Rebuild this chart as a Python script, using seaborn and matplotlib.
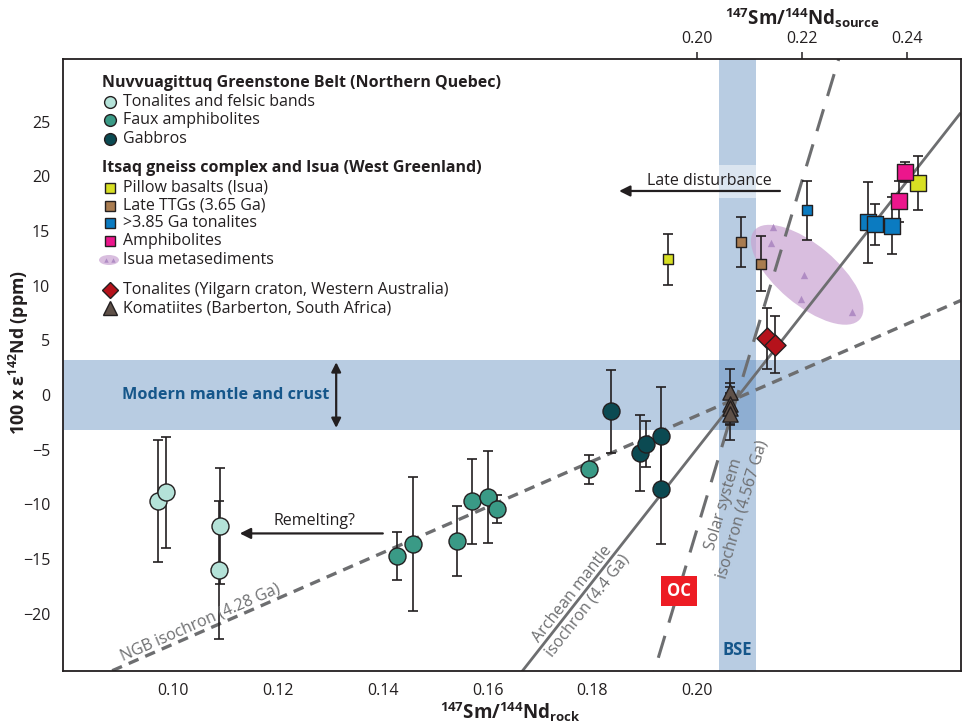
import numpy as np
import pandas as pd
import matplotlib
matplotlib.use("Agg")
import matplotlib.pyplot as plt
import matplotlib.transforms as mtransforms
from matplotlib.patches import Ellipse, Rectangle
import seaborn as sns

# ---------------- data ----------------
# Nuvvuagittuq Greenstone Belt (Northern Quebec)
felsic_x = [0.0970, 0.0987, 0.1090, 0.1087]
felsic_y = [-9.7, -8.9, -12.0, -16.0]
felsic_err = [5.6, 5.1, 5.3, 6.3]

faux_x = [0.1428, 0.1457, 0.1541, 0.1570, 0.1601, 0.1618, 0.1793]
faux_y = [-14.7, -13.6, -13.3, -9.7, -9.3, -10.4, -6.8]
faux_err = [2.2, 6.1, 3.2, 3.9, 4.2, 1.3, 1.3]

gabbro_x = [0.1835, 0.1891, 0.1902, 0.1931, 0.1931]
gabbro_y = [-1.5, -5.3, -4.5, -3.7, -8.6]
gabbro_err = [3.8, 3.5, 2.1, 4.4, 5.0]

# Itsaq gneiss complex and Isua (West Greenland)
pillow_x = [0.1945, 0.2421]
pillow_y = [12.4, 19.4]
pillow_err = [2.3, 2.5]
pillow_big = [False, True]

ttg_x = [0.2083, 0.2121]
ttg_y = [14.0, 12.0]
ttg_err = [2.3, 2.5]

tonalite_x = [0.2210, 0.2326, 0.2339, 0.2372]
tonalite_y = [16.9, 15.8, 15.6, 15.5]
tonalite_err = [2.7, 3.7, 1.9, 2.6]
tonalite_big = [False, True, True, True]

amph_x = [0.2385, 0.2396]
amph_y = [17.7, 20.4]
amph_err = [1.9, 0.9]

metased_x = [0.2144, 0.2141, 0.2203, 0.2198, 0.2295]
metased_y = [15.4, 13.9, 11.0, 8.8, 7.6]
metased_center = (0.2210, 11.0)

# Yilgarn craton and Barberton
yilgarn_x = [0.2134, 0.2148]
yilgarn_y = [5.2, 4.6]
yilgarn_err = [2.8, 2.6]

komatiite_x = [0.2062, 0.2062, 0.2062, 0.2062]
komatiite_y = [0.3, -0.8, -1.2, -1.7]
komatiite_err = [2.1, 1.9, 1.4, 2.4]

# isochrons: slope (ppm per unit Sm/Nd) through a common pivot
iso_pivot = (0.2075, -0.3)
iso_names = ["NGB", "Archean", "Solar"]
iso_slopes = [209.0, 610.0, 1590.0]

# reference fields
mantle_band = (-3.17, 3.17)
bse_band = (0.2041, 0.2113)

x_ticks = [0.10, 0.12, 0.14, 0.16, 0.18, 0.20]
top_ticks = [0.20, 0.22, 0.24]
y_ticks = [-20, -15, -10, -5, 0, 5, 10, 15, 20, 25]
x_range = (0.0789, 0.2503)
y_range = (-25.2, 30.7)

# ---------------- style ----------------
sns.set_style("white")
FONT = "Open Sans"
plt.rcParams["font.family"] = [FONT, "DejaVu Sans"]
plt.rcParams["mathtext.fontset"] = "custom"
plt.rcParams["mathtext.rm"] = FONT
plt.rcParams["mathtext.bf"] = FONT + ":bold"
plt.rcParams["mathtext.it"] = FONT + ":italic"

INK = "#231f20"
GREY = "#6d6e70"
BAND = "#5686bc"
DARKBLUE = "#15568a"
C_FELSIC = "#b4e2d8"
C_FAUX = "#3a9a86"
C_GABBRO = "#0b4a52"
C_PILLOW = "#d7df23"
C_TTG = "#a97c50"
C_TON = "#0b7bc1"
C_AMPH = "#ec168c"
C_META = "#b08cc4"
C_ELL = "#c9a3d2"
C_YIL = "#b5121b"
C_KOM = "#5f5149"

FS = 11.5

fig = plt.figure(figsize=(9.64, 7.27), dpi=100)
ax = fig.add_axes([62.7 / 964, 1 - 670.7 / 727, 898 / 964, 611.4 / 727])
ax.set_xlim(*x_range)
ax.set_ylim(*y_range)

# ---------------- fields ----------------
ax.axhspan(*mantle_band, color=BAND, alpha=0.42, lw=0, zorder=1)
ax.axvspan(*bse_band, color=BAND, alpha=0.42, lw=0, zorder=1)
ax.add_patch(Rectangle((bse_band[0], 18.05), bse_band[1] - bse_band[0], 2.95,
                       facecolor="white", alpha=0.5, lw=0, zorder=1.2))

# Isua metasediment field
ell_trans = fig.dpi_scale_trans + mtransforms.ScaledTranslation(
    metased_center[0], metased_center[1], ax.transData)
ax.add_patch(Ellipse((0, 0), 1.38, 0.60, angle=-40, transform=ell_trans,
                     facecolor=C_ELL, alpha=0.7, lw=0, zorder=1.5))

# ---------------- isochrons ----------------
xs = np.array(x_range)
styles = {
    "NGB": dict(ls=(0, (3.2, 2.2)), lw=2.4),
    "Archean": dict(ls="-", lw=2.0),
    "Solar": dict(ls=(0, (7.5, 4.5)), lw=2.2),
}
for name, slope in zip(iso_names, iso_slopes):
    ys = iso_pivot[1] + slope * (xs - iso_pivot[0])
    ax.plot(xs, ys, color=GREY, zorder=2, solid_capstyle="butt", **styles[name])

# ---------------- error bars + markers ----------------
def errbars(x, y, e):
    ax.errorbar(x, y, yerr=e, fmt="none", ecolor=INK, elinewidth=1.2,
                capsize=3.6, capthick=1.2, zorder=3)

def points(x, y, color, marker, s, z=4, lw=1.0):
    df = pd.DataFrame({"x": x, "y": y})
    sns.scatterplot(data=df, x="x", y="y", ax=ax, color=color, marker=marker,
                    s=s, edgecolor=INK, linewidth=lw, zorder=z, legend=False)

errbars(felsic_x, felsic_y, felsic_err)
errbars(faux_x, faux_y, faux_err)
errbars(gabbro_x, gabbro_y, gabbro_err)
errbars(pillow_x, pillow_y, pillow_err)
errbars(ttg_x, ttg_y, ttg_err)
errbars(tonalite_x, tonalite_y, tonalite_err)
errbars(amph_x, amph_y, amph_err)
errbars(yilgarn_x, yilgarn_y, yilgarn_err)
errbars(komatiite_x, komatiite_y, komatiite_err)

points(felsic_x, felsic_y, C_FELSIC, "o", 150)
points(faux_x, faux_y, C_FAUX, "o", 150)
points(gabbro_x, gabbro_y, C_GABBRO, "o", 150)

S_SMALL, S_BIG = 44, 120
for xv, yv, big in zip(pillow_x, pillow_y, pillow_big):
    points([xv], [yv], C_PILLOW, "s", S_BIG if big else S_SMALL)
points(ttg_x, ttg_y, C_TTG, "s", S_SMALL)
for xv, yv, big in zip(tonalite_x, tonalite_y, tonalite_big):
    points([xv], [yv], C_TON, "s", S_BIG if big else S_SMALL)
points(amph_x, amph_y, C_AMPH, "s", S_BIG)

df_meta = pd.DataFrame({"x": metased_x, "y": metased_y})
sns.scatterplot(data=df_meta, x="x", y="y", ax=ax, color=C_META, marker="^",
                s=28, linewidth=0, zorder=1.6, legend=False)

points(yilgarn_x, yilgarn_y, C_YIL, "D", 115)
points(komatiite_x, komatiite_y, C_KOM, "^", 120)

# ---------------- annotations ----------------
ax.text(0.1101, 0.0, "Modern mantle and crust", color=DARKBLUE, fontsize=11.7,
        fontweight="bold", ha="center", va="center", zorder=5)
ax.annotate("", xy=(0.1311, 3.0), xytext=(0.1311, -3.0),
            arrowprops=dict(arrowstyle="<|-|>", color=INK, lw=1.6,
                            mutation_scale=14, shrinkA=0, shrinkB=0), zorder=5)

ax.annotate("", xy=(0.1851, 18.66), xytext=(0.2158, 18.66),
            arrowprops=dict(arrowstyle="-|>", color=INK, lw=1.6,
                            mutation_scale=16, shrinkA=0, shrinkB=0), zorder=5)
ax.text(0.2024, 19.6, "Late disturbance", color=INK, fontsize=FS,
        ha="center", va="center", zorder=5)

ax.annotate("", xy=(0.1127, -12.65), xytext=(0.1400, -12.65),
            arrowprops=dict(arrowstyle="-|>", color=INK, lw=1.6,
                            mutation_scale=16, shrinkA=0, shrinkB=0), zorder=5)
ax.text(0.1270, -11.55, "Remelting?", color=INK, fontsize=FS,
        ha="center", va="center", zorder=5)

ax.text(0.1966, -17.9, "OC", color="white", fontsize=12, fontweight="bold",
        ha="center", va="center", zorder=6,
        bbox=dict(boxstyle="square,pad=0.36", facecolor="#ed1c24", edgecolor="none"))
ax.text(0.2077, -23.3, "BSE", color=DARKBLUE, fontsize=12, fontweight="bold",
        ha="center", va="center", zorder=6)

ax.text(0.1051, -20.8, "NGB isochron (4.28 Ga)", color=GREY, fontsize=FS,
        rotation=23.6, rotation_mode="anchor", ha="center", va="center", zorder=5)
ax.text(0.1776, -18.7, "Archean mantle\nisochron (4.4 Ga)", color=GREY,
        fontsize=FS, rotation=51.8, rotation_mode="anchor", ha="center",
        va="center", multialignment="center", linespacing=1.25, zorder=5)
ax.text(0.2069, -10.2, "Solar system\nisochron (4.567 Ga)", color=GREY,
        fontsize=FS, rotation=73.3, rotation_mode="anchor", ha="center",
        va="center", multialignment="center", linespacing=1.25, zorder=5)

# ---------------- legend (hand placed) ----------------
def fx(px):
    return (px - 62.7) / 898.0

def fy(py):
    return (670.7 - py) / 611.4

MX, TX, HX = 110, 123, 102.5

def leg_title(py, txt):
    ax.text(fx(HX), fy(py), txt, transform=ax.transAxes, fontsize=FS,
            fontweight="bold", color=INK, ha="left", va="center")

def leg_item(py, txt, color, marker, ms):
    ax.plot([fx(MX)], [fy(py)], transform=ax.transAxes, marker=marker,
            ms=ms, mfc=color, mec=INK, mew=1.0, ls="none", clip_on=False)
    ax.text(fx(TX), fy(py), txt, transform=ax.transAxes, fontsize=FS,
            color=INK, ha="left", va="center")

leg_title(83, "Nuvvuagittuq Greenstone Belt (Northern Quebec)")
leg_item(101.7, "Tonalites and felsic bands", C_FELSIC, "o", 8.5)
leg_item(120.0, "Faux amphibolites", C_FAUX, "o", 8.5)
leg_item(138.7, "Gabbros", C_GABBRO, "o", 8.5)
leg_title(167.7, "Itsaq gneiss complex and Isua (West Greenland)")
leg_item(187.7, "Pillow basalts (Isua)", C_PILLOW, "s", 6.8)
leg_item(205.7, "Late TTGs (3.65 Ga)", C_TTG, "s", 6.8)
leg_item(223.3, ">3.85 Ga tonalites", C_TON, "s", 6.8)
leg_item(241.3, "Amphibolites", C_AMPH, "s", 6.8)
ax.add_patch(Ellipse((fx(109), fy(260)), 20 / 898.0, 10 / 611.4,
                     transform=ax.transAxes, facecolor=C_ELL, alpha=0.7, lw=0))
for dx in (-3.5, 3.5):
    ax.plot([fx(109 + dx)], [fy(259.5)], transform=ax.transAxes, marker="^",
            ms=3.2, mfc=C_META, mew=0, ls="none")
ax.text(fx(TX), fy(260), "Isua metasediments", transform=ax.transAxes,
        fontsize=FS, color=INK, ha="left", va="center")
leg_item(290.0, "Tonalites (Yilgarn craton, Western Australia)", C_YIL, "D", 8.0)
leg_item(308.3, "Komatiites (Barberton, South Africa)", C_KOM, "^", 10.0)

# ---------------- axes ----------------
ax.set_xticks(x_ticks)
ax.set_xticklabels([f"{v:.2f}" for v in x_ticks])
ax.set_yticks(y_ticks)
ax.set_yticklabels([str(v).replace("-", "\u2212") for v in y_ticks])
ax.tick_params(axis="both", direction="out", length=5, width=1.1, color=INK,
               labelsize=FS, labelcolor=INK, pad=4)
for sp in ax.spines.values():
    sp.set_visible(True)
    sp.set_color(INK)
    sp.set_linewidth(1.3)

top = ax.secondary_xaxis("top")
top.set_xticks(top_ticks)
top.set_xticklabels([f"{v:.2f}" for v in top_ticks])
top.tick_params(axis="x", direction="out", length=5, width=1.1, color=INK,
                labelsize=FS, labelcolor=INK, pad=4)
top.spines["top"].set_visible(False)

ax.set_xlabel("")
ax.set_ylabel("")
fig.text(510 / 964, 1 - 712 / 727,
         r"$^{\mathbf{147}}$Sm/$^{\mathbf{144}}$Nd$_{\mathbf{rock}}$",
         fontsize=13.5, fontweight="bold", color=INK, ha="center", va="center")
fig.text(802 / 964, 1 - 18 / 727,
         r"$^{\mathbf{147}}$Sm/$^{\mathbf{144}}$Nd$_{\mathbf{source}}$",
         fontsize=13.5, fontweight="bold", color=INK, ha="center", va="center")
fig.text(19 / 964, 1 - 352 / 727, r"100 x ε$^{\mathbf{142}}$Nd (ppm)",
         fontsize=12.8, fontweight="bold", color=INK, ha="center", va="center",
         rotation=90)

fig.savefig("out.png", dpi=100)
